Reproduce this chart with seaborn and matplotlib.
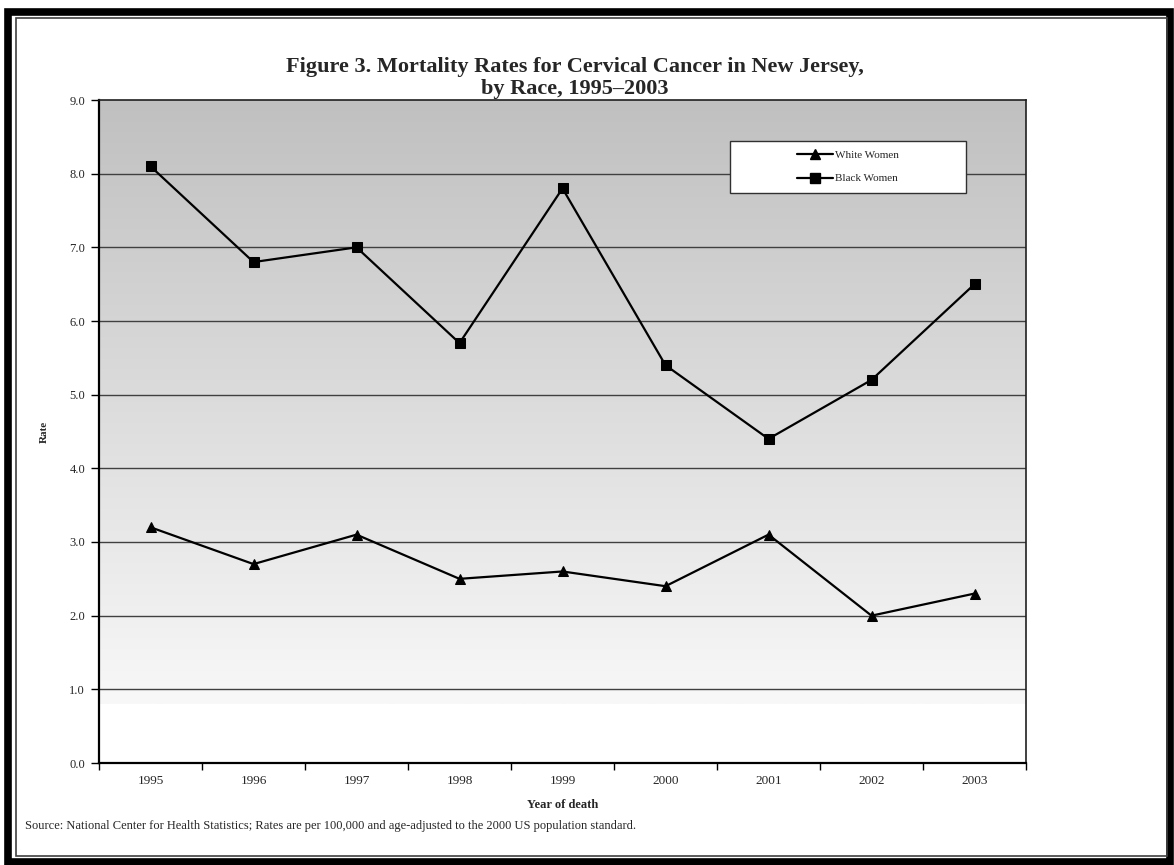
import numpy as np
import pandas as pd
import seaborn as sns
import matplotlib.pyplot as plt
from matplotlib.patches import Rectangle
from matplotlib.colors import LinearSegmentedColormap

# ===================== data =====================
years = ["1995", "1996", "1997", "1998", "1999", "2000", "2001", "2002", "2003"]
white_women = [3.2, 2.7, 3.1, 2.5, 2.6, 2.4, 3.1, 2.0, 2.3]
black_women = [8.1, 6.8, 7.0, 5.7, 7.8, 5.4, 4.4, 5.2, 6.5]
series_names = ["White Women", "Black Women"]
y_ticks = [0, 1, 2, 3, 4, 5, 6, 7, 8, 9]

df = pd.DataFrame({
    "Year": years * 2,
    "Rate": white_women + black_women,
    "Group": [series_names[0]] * len(years) + [series_names[1]] * len(years),
})

# ===================== style =====================
sns.set_theme(style="white")
plt.rcParams["font.family"] = ["Liberation Serif", "DejaVu Serif"]

fig = plt.figure(figsize=(11.74, 8.65), dpi=100)
ax = fig.add_axes([99 / 1174, 102 / 865, 927 / 1174, 663 / 865])

# gray gradient background (white below 0.8)
cmap = LinearSegmentedColormap.from_list("bg", ["#f8f8f8", "#c0c0c0"])
grad = np.linspace(0, 1, 256).reshape(-1, 1)
ax.imshow(grad, cmap=cmap, origin="lower", aspect="auto",
          extent=(-0.5, 8.5, 0.8, 9.0), zorder=0)

for yv in y_ticks[1:-1]:
    ax.axhline(yv, color="#404040", lw=1.0, zorder=1)

sns.lineplot(data=df, x="Year", y="Rate", hue="Group", style="Group",
             palette=["black", "black"], markers=["^", "s"], dashes=False,
             markersize=7, linewidth=1.6, markeredgecolor="black",
             legend=False, ax=ax, zorder=3)

ax.set_xlim(-0.5, 8.5)
ax.set_ylim(0, 9)
ax.set_yticks(y_ticks)
ax.set_yticklabels([f"{v:.1f}" for v in y_ticks], fontsize=9)
ax.set_xticks(range(len(years)))
ax.set_xticklabels(years, fontsize=9.5)
ax.set_xticks(np.arange(-0.5, 9, 1), minor=True)
ax.tick_params(axis="x", which="major", length=0, pad=9)
ax.tick_params(axis="x", which="minor", length=5, width=1, color="black", direction="out")
ax.tick_params(axis="y", length=6, width=1, color="black", direction="out", pad=4)
ax.tick_params(left=True, bottom=False)
ax.tick_params(axis="x", which="minor", bottom=True)

ax.set_xlabel("Year of death", fontsize=9, fontweight="bold", labelpad=8)
ax.set_ylabel("Rate", fontsize=8, fontweight="bold", labelpad=15)

for side in ["left", "bottom"]:
    ax.spines[side].set_color("black")
    ax.spines[side].set_linewidth(1.6)
for side in ["top", "right"]:
    ax.spines[side].set_color("#202020")
    ax.spines[side].set_linewidth(1.2)

# legend box
ax.add_patch(Rectangle((0.681, 0.860), 0.254, 0.078, transform=ax.transAxes,
                       facecolor="white", edgecolor="#303030", lw=1.0, zorder=4))
handles = [
    plt.Line2D([], [], color="black", lw=1.6, marker="^", markersize=7),
    plt.Line2D([], [], color="black", lw=1.6, marker="s", markersize=7),
]
leg = ax.legend(handles, series_names, loc="center", bbox_to_anchor=(0.808, 0.899),
                frameon=False, fontsize=8, handlelength=3.2, handletextpad=0.2,
                labelspacing=1.2)
leg.set_zorder(5)

# title and source
fig.text(575 / 1174, 1 - 78 / 865,
         "Figure 3. Mortality Rates for Cervical Cancer in New Jersey,\nby Race, 1995–2003",
         ha="center", va="center", fontsize=16, fontweight="bold", linespacing=1.1)
fig.text(25 / 1174, 1 - 826 / 865,
         "Source: National Center for Health Statistics; Rates are per 100,000 and age-adjusted to the 2000 US population standard.",
         ha="left", va="center", fontsize=9)

# page borders
fig.patches.append(Rectangle((8 / 1174, 3 / 865), 1162 / 1174, 850 / 865,
                             transform=fig.transFigure, fill=False,
                             edgecolor="black", lw=5.5))
fig.patches.append(Rectangle((16 / 1174, 9 / 865), 1151 / 1174, 838 / 865,
                             transform=fig.transFigure, fill=False,
                             edgecolor="#404040", lw=1.2))

fig.savefig("out.png", dpi=100)
